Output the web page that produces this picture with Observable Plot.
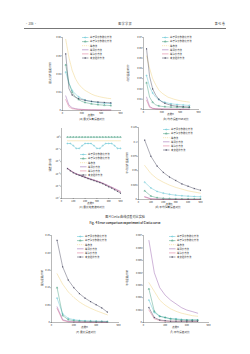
<!DOCTYPE html>
<html><head><meta charset="utf-8">
<script src="https://cdn.jsdelivr.net/npm/d3@7"></script>
<script src="https://cdn.jsdelivr.net/npm/@observablehq/plot@0.6"></script>
<style>
html,body{margin:0;padding:0;background:#fff;}
#page{position:relative;width:250px;height:354px;overflow:hidden;background:#fff;font-family:"Noto Sans CJK SC","Noto Sans",sans-serif;color:#333;}
.t{position:absolute;white-space:nowrap;line-height:1;}
svg.p{position:absolute;overflow:visible;}
</style></head>
<body><div id="page"></div>
<script>
// ---------- data ----------
const seriesNames = ["基于弧长参数化方法","基于弦长参数化方法","等参法","等弧长方法","等弦长方法","本文插补方法"];
const seriesColors = ["#45b9cb","#2a8f6c","#ecc862","#85459f","#d4507a","#2f2f4a"];
const seriesSymbols = ["circle","triangle",null,null,null,"asterisk"];
const seriesDash = [null,null,"1.2,0.8",null,null,null];

const X_A = [50,100,150,200,250,300,350,400,450,500,550,600,650,700,750];
const A_S1 = [0.042,0.030,0.022,0.018,0.015,0.013,0.0115,0.0105,0.0098,0.0092,0.0087,0.0083,0.0080,0.0078,0.0076];
const A_S2 = [0.050,0.030,0.020,0.015,0.012,0.010,0.0088,0.0080,0.0073,0.0068,0.0064,0.0061,0.0058,0.0056,0.0054];
const A_S3 = [0.078,0.058,0.044,0.035,0.029,0.025,0.022,0.020,0.018,0.0165,0.0155,0.0147,0.014,0.0134,0.013];
const A_S4 = [0.016,0.006,0.003,0.002,0.0015,0.0012,0.001,0.0009,0.0008,0.0008,0.0007,0.0007,0.0006,0.0006,0.0006];
const A_S5 = [0.012,0.004,0.002,0.0015,0.001,0.0009,0.0008,0.0007,0.0006,0.0006,0.0005,0.0005,0.0005,0.0005,0.0005];
const A_S6 = [0.062,0.024,0.017,0.0145,0.013,0.012,0.0112,0.0105,0.0100,0.0096,0.0093,0.0090,0.0088,0.0086,0.0084];

const X_B = [50,100,150,200,250,300,350,400,450,500,550,600,650,700,750];
const B_S1 = [0.033,0.022,0.016,0.012,0.0095,0.008,0.007,0.0062,0.0056,0.0052,0.0049,0.0046,0.0044,0.0042,0.004];
const B_S2 = [0.026,0.012,0.007,0.0045,0.0035,0.003,0.0027,0.0025,0.0024,0.0023,0.0022,0.0022,0.0021,0.0021,0.002];
const B_S3 = [0.052,0.040,0.030,0.024,0.019,0.016,0.014,0.012,0.011,0.010,0.0092,0.0085,0.008,0.0076,0.0072];
const B_S4 = [0.012,0.003,0.0012,0.0008,0.0006,0.0005,0.0004,0.0004,0.0003,0.0003,0.0003,0.0003,0.0003,0.0003,0.0003];
const B_S5 = [0.009,0.002,0.001,0.0006,0.0005,0.0004,0.0003,0.0003,0.0003,0.0002,0.0002,0.0002,0.0002,0.0002,0.0002];
const B_S6 = [0.059,0.032,0.020,0.014,0.010,0.0075,0.006,0.005,0.0042,0.0036,0.0032,0.0029,0.0027,0.0025,0.0024];

const X_C = [50,75,100,125,150,175,200,225,250,275,300,325,350,375,400,425,450,475,500];
const C_S1 = [0.3,0.3,0.2,0.12,0.12,0.2,0.3,0.3,0.3,0.2,0.12,0.12,0.2,0.3,0.3,0.3,0.2,0.12,0.12];
const C_S2 = [1,1,1,1,1,1,1,1,1,1,1,1,1,1,1,1,1,1,1];
const C_S3 = [0.5,0.5,0.5,0.5,0.5,0.5,0.5,0.5,0.5,0.5,0.5,0.5,0.5,0.5,0.5,0.5,0.5,0.5,0.5];
const C_S4 = [3.0e-3,2.0e-3,1.4e-3,1.05e-3,8.5e-4,6.8e-4,5.6e-4,4.6e-4,3.8e-4,3.2e-4,2.7e-4,2.2e-4,1.8e-4,1.4e-4,1.1e-4,8.5e-5,6.5e-5,5e-5,3.8e-5];
const C_S5 = [2.8e-3,1.9e-3,1.3e-3,1.0e-3,8.2e-4,6.6e-4,5.4e-4,4.4e-4,3.7e-4,3.1e-4,2.6e-4,2.1e-4,1.7e-4,1.3e-4,1.0e-4,8e-5,6e-5,4.5e-5,3.4e-5];
const C_S6 = [2.7e-3,1.8e-3,1.25e-3,9.5e-4,7.8e-4,6.3e-4,5.2e-4,4.2e-4,3.5e-4,2.9e-4,2.4e-4,2.0e-4,1.6e-4,1.2e-4,9e-5,7e-5,5.2e-5,3.8e-5,2.7e-5];

const X_D = [50,100,150,200,250,300,350,400,450,500];
const D_S1 = [0.030,0.020,0.014,0.011,0.009,0.0075,0.0065,0.0058,0.0052,0.0048];
const D_S2 = [0.015,0.006,0.003,0.002,0.0015,0.0012,0.001,0.001,0.0009,0.0009];
const D_S3 = [0.059,0.045,0.036,0.030,0.025,0.021,0.018,0.015,0.013,0.011];
const D_S4 = [0.005,0.0012,0.0006,0.0004,0.0003,0.0003,0.0002,0.0002,0.0002,0.0002];
const D_S5 = [0.004,0.001,0.0005,0.0003,0.0002,0.0002,0.0002,0.0001,0.0001,0.0001];
const D_S6 = [0.103,0.075,0.058,0.047,0.039,0.033,0.027,0.023,0.019,0.016];

const X_E = [50,100,150,200,250,300,350,400,450,500];
const E_S1 = [0.07,0.025,0.012,0.008,0.006,0.005,0.0045,0.004,0.0035,0.003];
const E_S2 = [0.10,0.02,0.008,0.005,0.004,0.003,0.003,0.0025,0.0025,0.002];
const E_S3 = [0.14,0.11,0.088,0.072,0.059,0.049,0.041,0.034,0.028,0.022];
const E_S4 = [0.045,0.008,0.003,0.002,0.0015,0.0012,0.001,0.001,0.0009,0.0008];
const E_S5 = [0.04,0.006,0.002,0.0015,0.0012,0.001,0.0009,0.0008,0.0008,0.0007];
const E_S6 = [0.236,0.16,0.122,0.10,0.083,0.07,0.06,0.051,0.042,0.03];

const X_F = [50,100,150,200,250,300,350,400,450,500];
const F_S1 = [0.0018,0.0008,0.0005,0.0004,0.0003,0.0003,0.00025,0.0002,0.0002,0.0002];
const F_S2 = [0.0027,0.0009,0.0005,0.0004,0.0003,0.00025,0.0002,0.0002,0.0002,0.0002];
const F_S3 = [0.0032,0.0025,0.0018,0.0014,0.0011,0.0009,0.00075,0.00065,0.00055,0.0005];
const F_S4 = [0.0066,0.0040,0.0028,0.0022,0.0018,0.0015,0.0012,0.0010,0.00088,0.00075];
const F_S5 = [0.001,0.0003,0.00015,0.0001,0.0001,0.0001,0.0001,0.0001,0.0001,0.0001];
const F_S6 = [0.0012,0.0004,0.0002,0.00015,0.0001,0.0001,0.0001,0.0001,0.0001,0.0001];

const xTicksAB = [0,300,600,900];
const xTicksCD = [0,100,200,300,400,500];
const xTicksEF = [0,200,400,600];
const yTicksA = [0,0.02,0.04,0.06,0.08];
const yTicksB = [0,0.01,0.02,0.03,0.04,0.05,0.06,0.07];
const yTicksC = [1e-5,1e-4,1e-3,1e-2,1e-1,1];
const yTicksD = [0,0.025,0.05,0.075,0.1,0.125];
const yTicksE = [0,0.05,0.1,0.15,0.2,0.25];
const yTicksF = [0,0.001,0.002,0.003,0.004,0.005,0.006,0.007];

const captions = ["(a) 最大弦高误差对比","(b) 均方误差MSE对比","(c) 最大速度波动对比","(d) 平均弦高误差对比","(e) 最大误差对比","(f) 平均误差对比"];
const yLabels = ["最大弦高误差/mm","均方误差/mm²","速度波动率","平均弦高误差/mm","最大误差/mm","平均误差/mm"];
const xLabel = "点数n";

// ---------- helpers ----------
const page = document.getElementById("page");
const FONT = '"Noto Sans CJK SC","Noto Sans",sans-serif';
function txt(x,y,s,size,opts={}){
  const d=document.createElement("div");
  d.className="t"; d.textContent=s;
  d.style.left=x+"px"; d.style.top=y+"px"; d.style.fontSize=size+"px";
  let tr="";
  if(opts.anchor==="middle") tr+="translate(-50%,0) ";
  if(opts.anchor==="end") tr+="translate(-100%,0) ";
  if(opts.rotate) tr="translate(-50%,-50%) rotate(-90deg)";
  d.style.transform=tr;
  if(opts.weight) d.style.fontWeight=opts.weight;
  if(opts.color) d.style.color=opts.color;
  page.appendChild(d);
}
const supers={"-":"⁻","0":"⁰","1":"¹","2":"²","3":"³","4":"⁴","5":"⁵"};
function logFmt(d){const e=Math.round(Math.log10(d));return "10"+String(e).split("").map(c=>supers[c]).join("");}

function panel(cfg){
  const ml=16, mr=2, mt=3, mb=6;
  const {x0,x1,y0,y1}=cfg.frame;
  const W=x1-x0+ml+mr, H=y1-y0+mt+mb;
  const marks=[];
  cfg.series.forEach((vals,k)=>{
    const d=vals.map((v,i)=>({x:cfg.xs[i],y:v,i}));
    marks.push(Plot.line(d,{x:"x",y:"y",stroke:seriesColors[k],strokeWidth:0.4,strokeDasharray:seriesDash[k]||undefined}));
    if(seriesSymbols[k]) marks.push(Plot.dot(d.filter(r=>r.i%cfg.every===0),{x:"x",y:"y",symbol:seriesSymbols[k],r:0.6,stroke:seriesColors[k],strokeWidth:0.35,fill:"none"}));
  });
  marks.push(Plot.ruleX([cfg.xDomain[0]],{stroke:"#333",strokeWidth:0.35}));
  marks.push(Plot.ruleY([cfg.yDomain[0]],{stroke:"#333",strokeWidth:0.35}));
  marks.push(Plot.axisX({ticks:cfg.xTicks,tickSize:1,tickPadding:0.6,label:null,fontSize:2.4,strokeWidth:0.35,tickFormat:d=>String(d)}));
  marks.push(Plot.axisY({ticks:cfg.yTicks,tickSize:1,tickPadding:0.6,label:null,fontSize:2.4,strokeWidth:0.35,tickFormat:cfg.yFmt}));
  const svg=Plot.plot({
    width:W,height:H,marginLeft:ml,marginRight:mr,marginTop:mt,marginBottom:mb,
    x:{domain:cfg.xDomain},
    y:{domain:cfg.yDomain,type:cfg.yType||"linear"},
    style:{fontSize:"2.4px",fontFamily:FONT,background:"transparent",overflow:"visible",color:"#333"},
    marks
  });
  svg.classList.add("p");
  svg.style.left=(x0-ml)+"px"; svg.style.top=(y0-mt)+"px";
  page.appendChild(svg);
  txt((x0+x1)/2, y1+3.6, xLabel, 2.6, {anchor:"middle"});
  txt(cfg.ylab[0], cfg.ylab[1], cfg.ylabel, 2.6, {rotate:true});
  txt(cfg.cap[0], cfg.cap[1], cfg.caption, 2.7, {anchor:"middle"});
  const [lx,ly]=cfg.legend;
  const lg=d3.create("svg").attr("width",40).attr("height",26).attr("class","p")
    .style("left",lx+"px").style("top",ly+"px");
  seriesNames.forEach((n,k)=>{
    const yy=1.5+k*4.1;
    lg.append("line").attr("x1",0).attr("x2",6.5).attr("y1",yy).attr("y2",yy)
      .attr("stroke",seriesColors[k]).attr("stroke-width",0.45).attr("stroke-dasharray",seriesDash[k]);
    if(seriesSymbols[k]){
      const sym={circle:d3.symbolCircle,triangle:d3.symbolTriangle,asterisk:d3.symbolAsterisk}[seriesSymbols[k]];
      lg.append("path").attr("d",d3.symbol(sym,1.5)()).attr("transform",`translate(3.25,${yy})`)
        .attr("fill","none").attr("stroke",seriesColors[k]).attr("stroke-width",0.35);
    }
    lg.append("text").attr("x",8).attr("y",yy).attr("dy","0.35em").attr("font-size",2.4)
      .attr("font-family",FONT).attr("fill","#333").text(n);
  });
  page.appendChild(lg.node());
}

// ---------- header ----------
txt(25,23,"· 206 ·",2.9,{color:"#444"});
txt(125,23,"图  学  学  报",2.9,{anchor:"middle",color:"#444"});
txt(225,23,"第 41 卷",2.9,{anchor:"end",color:"#444"});
const hr=document.createElement("div");
hr.style.cssText="position:absolute;left:24px;top:27.5px;width:202px;height:0;border-top:0.35px solid #777;";
page.appendChild(hr);

panel({frame:{x0:62,x1:120,y0:37,y1:110},xs:X_A,series:[A_S1,A_S2,A_S3,A_S4,A_S5,A_S6],every:2,
  xDomain:[0,900],xTicks:xTicksAB,yDomain:[0,0.08],yTicks:yTicksA,yFmt:d=>d===0?"0":d.toFixed(2),
  ylab:[50,73],ylabel:yLabels[0],cap:[92,117.5],caption:captions[0],legend:[82,36]});
panel({frame:{x0:143,x1:198,y0:37,y1:109},xs:X_B,series:[B_S1,B_S2,B_S3,B_S4,B_S5,B_S6],every:2,
  xDomain:[0,900],xTicks:xTicksAB,yDomain:[0,0.07],yTicks:yTicksB,yFmt:d=>d===0?"0":d.toFixed(2),
  ylab:[128,73],ylabel:yLabels[1],cap:[176,117.5],caption:captions[1],legend:[162,36]});
panel({frame:{x0:61,x1:120,y0:128,y1:198},xs:X_C,series:[C_S1,C_S2,C_S3,C_S4,C_S5,C_S6],every:1,
  xDomain:[0,500],xTicks:xTicksCD,yType:"log",yDomain:[1e-5,5],yTicks:yTicksC,yFmt:logFmt,
  ylab:[50,165],ylabel:yLabels[2],cap:[92,206],caption:captions[2],legend:[80,153]});
panel({frame:{x0:138,x1:200,y0:127,y1:199},xs:X_D,series:[D_S1,D_S2,D_S3,D_S4,D_S5,D_S6],every:1,
  xDomain:[0,500],xTicks:xTicksCD,yDomain:[0,0.125],yTicks:yTicksD,yFmt:d=>d===0?"0":d3.format("~g")(d),
  ylab:[127,163],ylabel:yLabels[3],cap:[168,206],caption:captions[3],legend:[163,128]});

txt(125,214.5,"图 4  Clelia 曲线误差对比实验",3.1,{anchor:"middle"});
txt(125,221.5,"Fig. 4  Error comparison experiment of Clelia curve",2.9,{anchor:"middle",weight:"bold"});

panel({frame:{x0:51,x1:118,y0:235,y1:322},xs:X_E,series:[E_S1,E_S2,E_S3,E_S4,E_S5,E_S6],every:1,
  xDomain:[0,600],xTicks:xTicksEF,yDomain:[0,0.25],yTicks:yTicksE,yFmt:d=>d===0?"0":d.toFixed(2),
  ylab:[42,278],ylabel:yLabels[4],cap:[86,331],caption:captions[4],legend:[77,235]});
panel({frame:{x0:143,x1:208,y0:235,y1:322},xs:X_F,series:[F_S1,F_S2,F_S3,F_S4,F_S5,F_S6],every:1,
  xDomain:[0,600],xTicks:xTicksEF,yDomain:[0,0.007],yTicks:yTicksF,yFmt:d=>d===0?"0":d.toFixed(3),
  ylab:[127,278],ylabel:yLabels[5],cap:[180,331],caption:captions[5],legend:[169,234.5]});
</script>
</body></html>
